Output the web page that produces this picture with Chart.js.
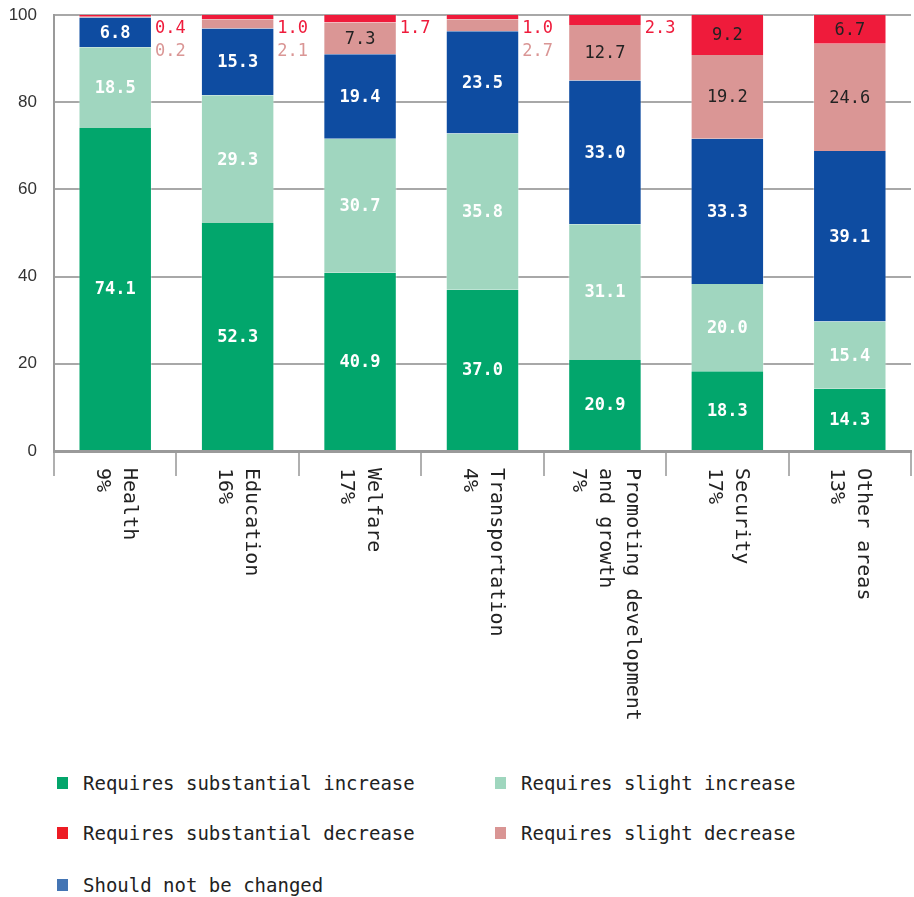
<!DOCTYPE html>
<html>
<head>
<meta charset="utf-8">
<script src="https://cdn.jsdelivr.net/npm/chart.js@4/dist/chart.umd.min.js"></script>
<style>
  body { margin: 0; background: #fff; }
  #wrap { position: relative; width: 914px; height: 897px; }
  #chart { position: absolute; left: 0; top: 0; }
  .lg { position: absolute; font: 19px "DejaVu Sans Mono", monospace; color: #222; white-space: nowrap; line-height: 22px; }
  .lg i { position: absolute; left: -26px; top: 5px; width: 11px; height: 12px; }
</style>
</head>
<body>
<div id="wrap">
  <canvas id="chart" width="914" height="745"></canvas>
  <div id="legend"></div>
</div>
<script>
const categories = [
  ['Health', '9%'],
  ['Education', '16%'],
  ['Welfare', '17%'],
  ['Transportation', '4%'],
  ['Promoting development', 'and growth', '7%'],
  ['Security', '17%'],
  ['Other areas', '13%']
];
const substantialIncrease = [74.1, 52.3, 40.9, 37.0, 20.9, 18.3, 14.3];
const slightIncrease      = [18.5, 29.3, 30.7, 35.8, 31.1, 20.0, 15.4];
const noChange            = [6.8, 15.3, 19.4, 23.5, 33.0, 33.3, 39.1];
const slightDecrease      = [0.2, 2.1, 7.3, 2.7, 12.7, 19.2, 24.6];
const substantialDecrease = [0.4, 1.0, 1.7, 1.0, 2.3, 9.2, 6.7];
const yTicks = [0, 20, 40, 60, 80, 100];

const MONO = '"DejaVu Sans Mono", monospace';

const series = [
  { label: 'Requires substantial increase', data: substantialIncrease, color: '#02a66c', key: '#03a56b', text: '#fff', bold: true },
  { label: 'Requires slight increase', data: slightIncrease, color: '#a0d6bf', key: '#9fd6be', text: '#fff', bold: true },
  { label: 'Should not be changed', data: noChange, color: '#0e4ca1', key: '#4475b4', text: '#fff', bold: true },
  { label: 'Requires slight decrease', data: slightDecrease, color: '#da9695', key: '#d99594', text: '#222', bold: false, outside: 1 },
  { label: 'Requires substantial decrease', data: substantialDecrease, color: '#ef1b3b', key: '#ed1c24', text: '#222', bold: false, outside: 0 }
];

// segment values, centred inside the bar, or beside it when the slice is thin
const valueLabels = {
  id: 'valueLabels',
  afterDatasetsDraw(chart) {
    const ctx = chart.ctx;
    const y = chart.scales.y;
    ctx.save();
    ctx.textBaseline = 'middle';
    series.forEach((s, di) => {
      const meta = chart.getDatasetMeta(di);
      meta.data.forEach((bar, i) => {
        const v = s.data[i];
        const txt = v.toFixed(1);
        if (v >= 5) {
          ctx.font = (s.bold ? 'bold ' : '') + '17px ' + MONO;
          ctx.fillStyle = s.text;
          ctx.textAlign = 'center';
          ctx.fillText(txt, bar.x, (bar.y + bar.base) / 2 + 1);
        } else if (s.outside !== undefined) {
          ctx.font = '17px ' + MONO;
          ctx.fillStyle = s.color;
          ctx.textAlign = 'left';
          ctx.fillText(txt, bar.x + bar.width / 2 + 3, y.getPixelForValue(100) + 14 + s.outside * 23);
        }
      });
    });
    ctx.restore();
  }
};

// category names turned a quarter clockwise under the axis
const xLabels = {
  id: 'xLabels',
  afterDraw(chart) {
    const ctx = chart.ctx;
    const x = chart.scales.x;
    const top = x.top + 17;
    const gap = 27;
    ctx.save();
    ctx.font = '20px ' + MONO;
    ctx.fillStyle = '#222';
    ctx.textAlign = 'left';
    ctx.textBaseline = 'middle';
    categories.forEach((lines, i) => {
      const cx = x.getPixelForValue(i);
      ctx.save();
      ctx.translate(cx, top);
      ctx.rotate(Math.PI / 2);
      const n = lines.length;
      lines.forEach((t, j) => {
        ctx.fillText(t, 0, -((n - 1) / 2 - j) * gap);
      });
      ctx.restore();
    });
    ctx.restore();
  }
};

new Chart(document.getElementById('chart'), {
  type: 'bar',
  data: {
    labels: categories.map(c => c.join(' ')),
    datasets: series.map(s => ({
      label: s.label,
      data: s.data,
      backgroundColor: s.color,
      borderColor: 'rgba(255,255,255,0.35)',
      borderWidth: { left: 1, right: 1 },
      borderSkipped: false,
      barPercentage: 0.6,
      categoryPercentage: 1
    }))
  },
  options: {
    responsive: false,
    animation: false,
    layout: { padding: { left: 8, right: 3, top: 15, bottom: 0 } },
    plugins: { legend: { display: false }, tooltip: { enabled: false } },
    scales: {
      x: {
        stacked: true,
        offset: true,
        grid: { offset: true, drawOnChartArea: false, drawTicks: true, tickLength: 25, color: '#b0b0b0', lineWidth: 2 },
        border: { color: '#9a9a9a', width: 3 },
        ticks: { display: false },
        afterFit(scale) { scale.height = 294; scale.paddingLeft = 0; scale.paddingRight = 0; }
      },
      y: {
        stacked: true,
        min: 0,
        max: 100,
        afterBuildTicks(scale) { scale.ticks = yTicks.map(v => ({ value: v })); },
        grid: { color: '#a8a8a8', lineWidth: 2, drawTicks: false },
        border: { color: '#9a9a9a', width: 2 },
        ticks: { padding: 17, color: '#333', font: { family: '"Liberation Sans", Arial, sans-serif', size: 17 } },
        afterFit(scale) { scale.width = 46; scale.paddingTop = 0; scale.paddingBottom = 0; }
      }
    }
  },
  plugins: [valueLabels, xLabels]
});

// legend laid out in two columns
const legendOrder = [0, 1, 4, 3, 2];
const legendPos = [[83, 772], [521, 772], [83, 822], [521, 822], [83, 874]];
document.getElementById('legend').innerHTML = legendOrder.map((si, k) => {
  const s = series[si];
  return '<div class="lg" style="left:' + legendPos[k][0] + 'px;top:' + legendPos[k][1] + 'px"><i style="background:' + s.key + '"></i>' + s.label + '</div>';
}).join('');
</script>
</body>
</html>
